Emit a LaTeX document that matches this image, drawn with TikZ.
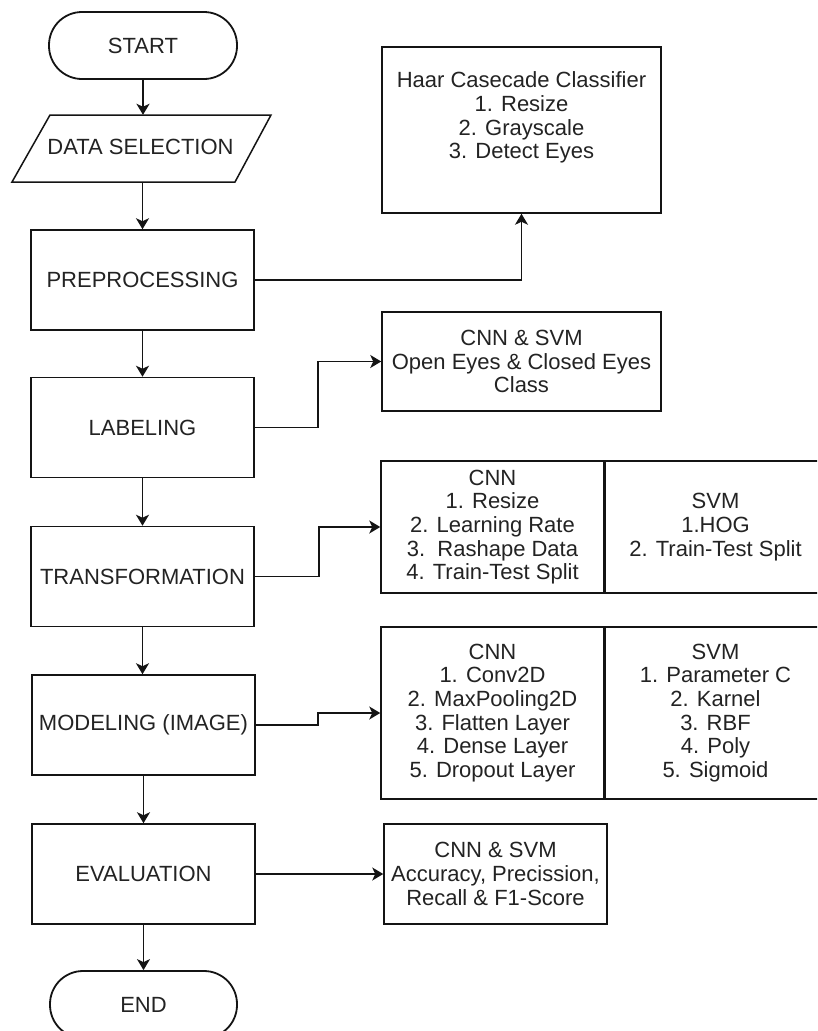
\documentclass[tikz,border=0pt]{standalone}
\usepackage{fontspec}
\setmainfont{Liberation Sans}
\usetikzlibrary{arrows.meta}
\definecolor{txt}{RGB}{35,35,35}
\definecolor{ln}{RGB}{20,20,20}
\begin{document}
\begin{tikzpicture}[x=1pt,y=-1pt,
  lbl/.style={font=\fontsize{22}{23.7}\selectfont, text=txt, align=center, inner sep=0pt},
  box/.style={lbl, draw=ln, line width=1.5pt, rectangle, minimum width=223pt, minimum height=100pt},
  term/.style={lbl, draw=ln, line width=1.8pt, rectangle, rounded corners=33pt, minimum width=188pt, minimum height=67pt},
  plain/.style={lbl, rectangle},
  arr/.style={draw=ln, line width=1.5pt, -{Stealth[length=11pt,width=13pt,inset=3pt]}}
]
\useasboundingbox (0,0) rectangle (817,1031);
\clip (0,0) rectangle (817,1031);
\fill[white] (0,0) rectangle (817,1031);

% main column
\node[term] (start) at (143,45.5) {START};
\node[plain, minimum width=180pt, minimum height=67pt] (data) at (142,148.5) {};
\draw[ln, line width=1.5pt] ([shift={(-92,-33.5)}]data.center) -- ([shift={(129,-33.5)}]data.center)
  -- ([shift={(93,33.5)}]data.center) -- ([shift={(-130,33.5)}]data.center) -- cycle;
\node[plain] (datat) at (140.5,147) {DATA SELECTION};
\node[box] (pre) at (142.5,280) {PREPROCESSING};
\node[box] (lab) at (142.5,427.5) {LABELING};
\node[box] (tra) at (142.5,576.5) {TRANSFORMATION};
\node[box] (mod) at (143.5,725) {MODELING (IMAGE)};
\node[box] (eva) at (143.5,874) {EVALUATION};
\node[term, minimum width=187pt] (end) at (143.5,1004.5) {END};

% right column
\node[box, minimum width=279pt, minimum height=166pt] (haar) at (521.5,130) {};
\node[plain] (haart) at (521.5,117.5) {Haar Casecade Classifier\\1. Resize\\2. Grayscale\\3. Detect Eyes};
\node[box, minimum width=279pt, minimum height=99pt] (cls) at (521.5,361.5) {CNN \& SVM\\Open Eyes \& Closed Eyes\\Class};
\node[box, minimum width=223pt, minimum height=132pt] (tcnn) at (492.5,527) {CNN\\1. Resize\\2. Learning Rate\\3.\ \ Rashape Data\\4. Train-Test Split};
\node[box, minimum width=223pt, minimum height=132pt] (tsvm) at (715.5,527) {SVM\\1.HOG\\2. Train-Test Split};
\node[box, minimum width=223pt, minimum height=172pt] (mcnn) at (492.5,713) {CNN\\1. Conv2D\\2. MaxPooling2D\\3. Flatten Layer\\4. Dense Layer\\5. Dropout Layer};
\node[box, minimum width=223pt, minimum height=172pt] (msvm) at (715.5,713) {SVM\\1. Parameter C\\2. Karnel\\3. RBF\\4. Poly\\5. Sigmoid};
\draw[ln, line width=3pt] (tcnn.north east) -- (tcnn.south east);
\draw[ln, line width=3pt] (mcnn.north east) -- (mcnn.south east);
\node[box, minimum width=223pt, minimum height=100pt] (evr) at (495.5,874) {CNN \& SVM\\Accuracy, Precission,\\Recall \& F1-Score};

% connectors
\draw[arr, line width=2pt] (start.south) -- (start.south |- data.north);
\draw[arr] (data.south -| pre.north) -- (pre.north);
\draw[arr] (pre.south) -- (lab.north);
\draw[arr] (lab.south) -- (tra.north);
\draw[arr] (tra.south) -- (tra.south |- mod.north);
\draw[arr] (mod.south) -- (eva.north);
\draw[arr] (eva.south) -- (end.north);

\draw[arr] (pre.east) -| (haar.south);
\draw[arr] (lab.east) -- ++(63,0) |- (cls.west);
\draw[arr] (tra.east) -- ++(64,0) |- (tcnn.west);
\draw[arr] (mod.east) -- ++(62,0) |- (mcnn.west);
\draw[arr] (eva.east) -- (evr.west);
\end{tikzpicture}
\end{document}
